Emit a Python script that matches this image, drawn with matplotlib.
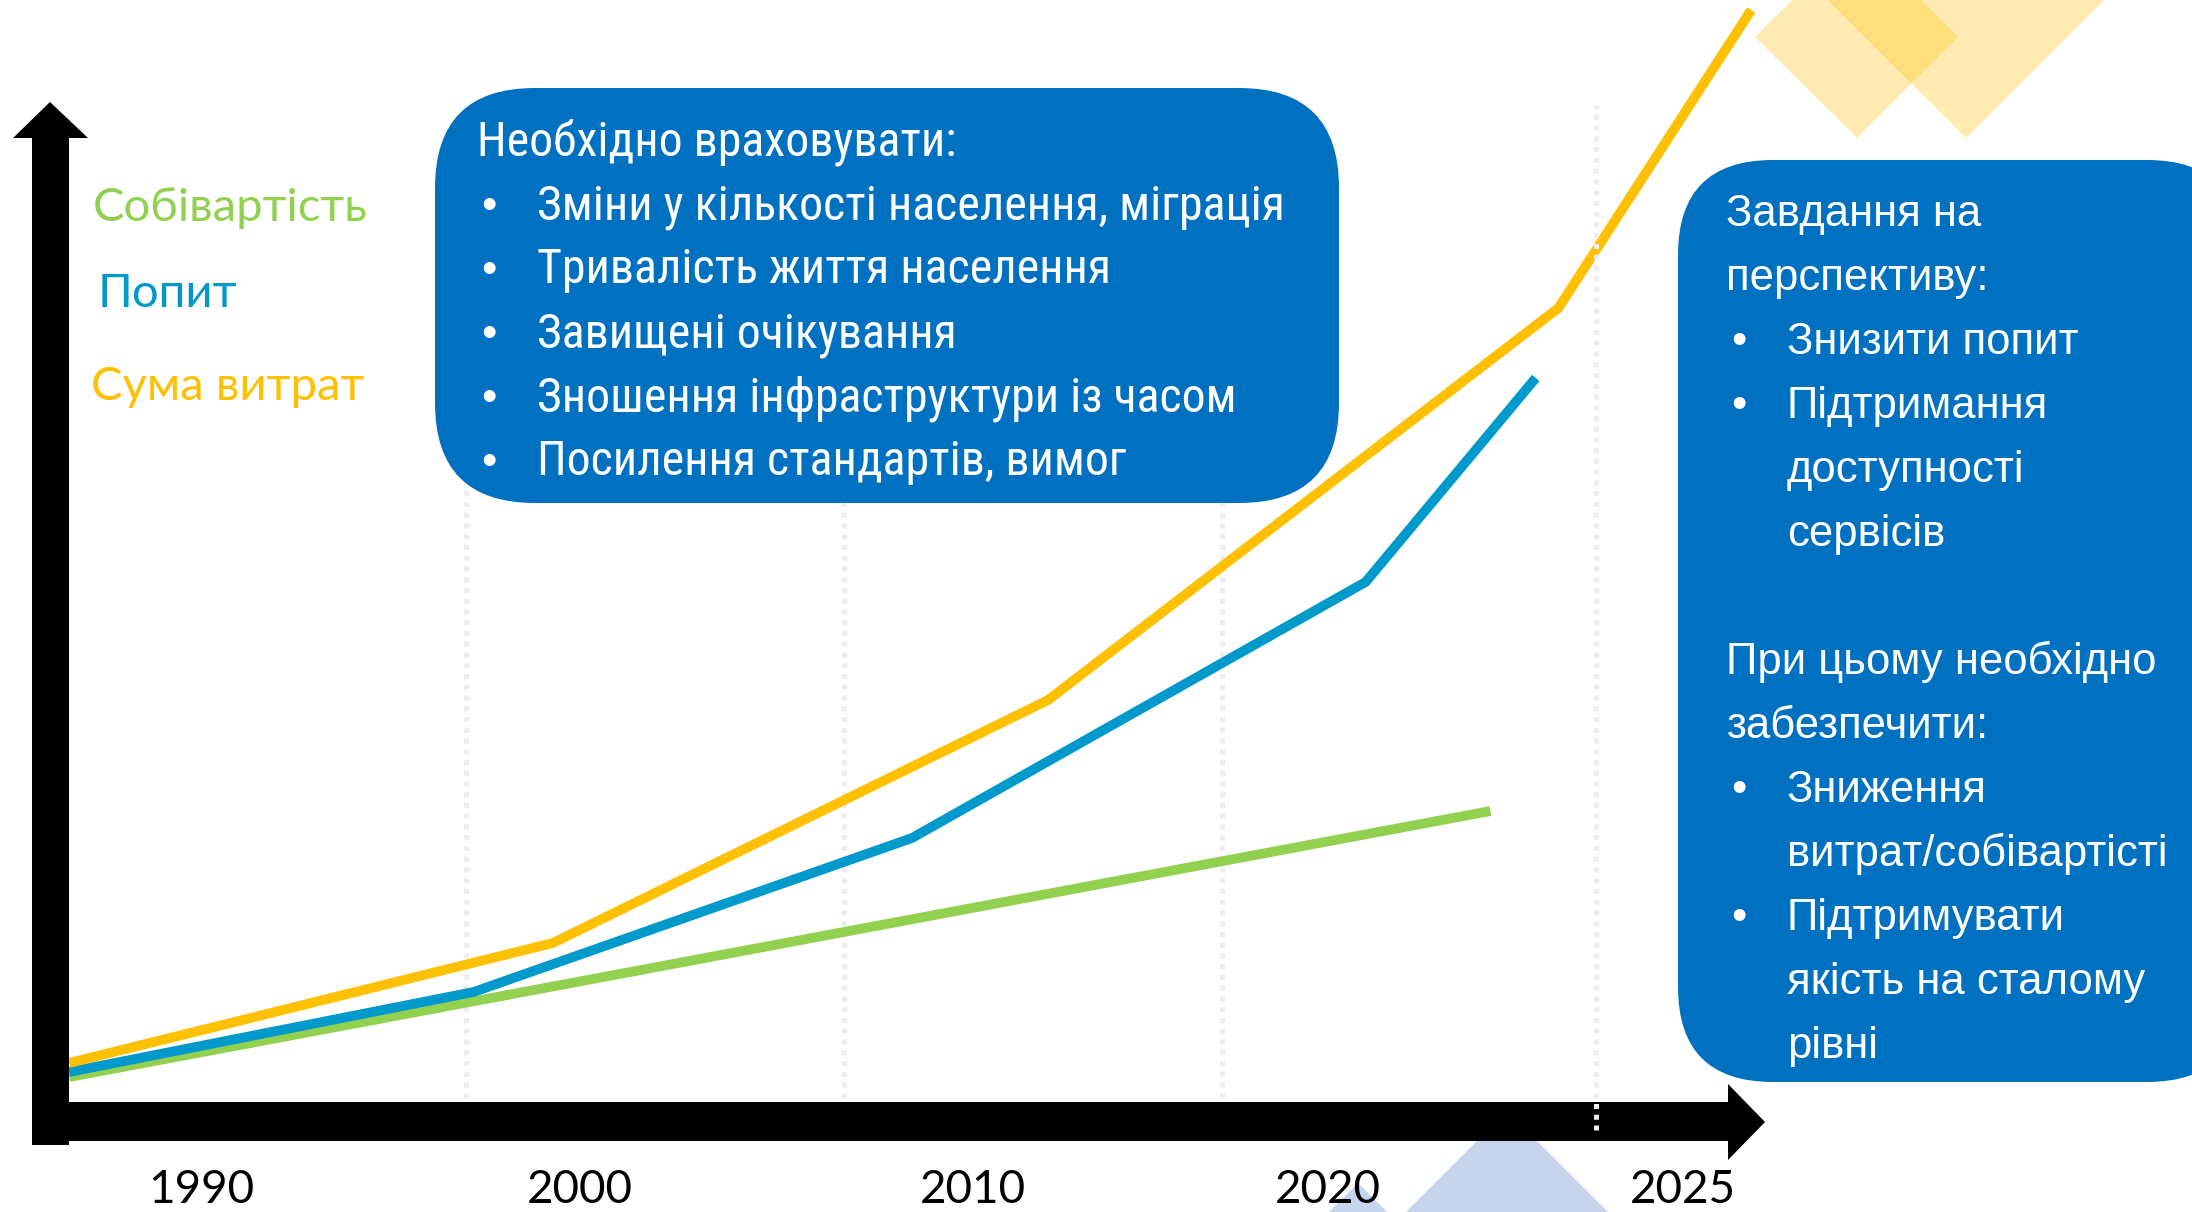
import matplotlib
matplotlib.use("Agg")
import matplotlib.pyplot as plt
from matplotlib import font_manager
from matplotlib.patches import Polygon, FancyBboxPatch
from matplotlib.transforms import Affine2D

# --- data ---
years_total = [1984.5, 1997.3, 2010.4, 2023.9, 2029.0]
total_cost = [3.9, 15.9, 40.2, 79.4, 109.2]          # Сума витрат
years_demand = [1984.5, 1995.2, 2006.8, 2018.8, 2023.3]
demand = [3.0, 11.0, 26.4, 52.0, 72.4]               # Попит
years_unit = [1984.5, 2022.1]
unit_cost = [2.5, 29.1]                              # Собівартість

grid_years = [1995, 2005, 2015, 2024.9]
tick_pos = [1988.0, 1998.0, 2008.4, 2017.8, 2027.2]
tick_labels = ["1990", "2000", "2010", "2020", "2025"]

series_names = ["Собівартість", "Попит", "Сума витрат"]
series_colors = ["#92D050", "#0099CC", "#FFC000"]

left_title = "Необхідно враховувати:"
left_items = ["Зміни у кількості населення, міграція",
              "Тривалість життя населення",
              "Завищені очікування",
              "Зношення інфраструктури із часом",
              "Посилення стандартів, вимог"]

# right box: (bullet?, text) per line; None = continuation of a bullet
right_lines = [(False, "Завдання на"), (False, "перспективу:"),
               (True, "Знизити попит"), (True, "Підтримання"),
               (None, "доступності"), (None, "сервісів"),
               (False, ""),
               (False, "При цьому необхідно"), (False, "забезпечити:"),
               (True, "Зниження"), (None, "витрат/собівартісті"),
               (True, "Підтримувати"), (None, "якість на сталому"),
               (None, "рівні")]

W, H = 2192, 1212
names = {f.name for f in font_manager.fontManager.ttflist}
narrow = next((n for n in ["Roboto Condensed", "PT Sans Narrow", "Liberation Sans"] if n in names), "DejaVu Sans")
BOX = "#0070C0"

fig = plt.figure(figsize=(W / 100, H / 100), dpi=100)
ax = fig.add_axes([0, 0, 1, 1])
# data scale: 37.8 px per year, 10 px per index unit, axis origin at pixel row 1102
ax.set_xlim(1995 - 466 / 37.8, 1995 + (W - 466) / 37.8)
ax.set_ylim(-(H - 1102) / 10, 1102 / 10)
ax.axis("off")
renderer = fig.canvas.get_renderer()

# pixel transform (origin top-left) for the slide decorations
px = Affine2D().scale(1 / W, -1 / H).translate(0, 1) + fig.transFigure


def fit_size(text, family, width_px, base=30):
    # font size that gives the sample text the width measured on the slide
    t = fig.text(0, 0, text, fontsize=base, family=family)
    w = t.get_window_extent(renderer).width
    t.remove()
    return base * width_px / w


fs_narrow = fit_size(left_items[0], narrow, 744)
fs_right = fit_size("витрат/собівартісті", "Liberation Sans", 379)
fs_legend = fit_size(series_names[0], "Lato", 275)
fs_tick = fit_size("1990", "Lato", 106)

# background shapes
for pts, col in [([(1755, 37), (1857, -64), (1958, 37), (1857, 138)], "#FFC000"),
                 ([(1786, -42), (1966, -222), (2146, -42), (1966, 138)], "#FFC000"),
                 ([(1507, 1111), (1657, 1261), (1507, 1411), (1357, 1261)], "#4472C4"),
                 ([(1358, 1183), (1458, 1283), (1358, 1383), (1258, 1283)], "#4472C4"),
                 ([(-20, -20), (12, -20), (-20, 12)], "#4472C4")]:
    ax.add_patch(Polygon(pts, closed=True, facecolor=col, alpha=0.3, lw=0,
                         transform=px, zorder=1))

# dotted grid (the last one sits on top of the lines and the axis)
ax.vlines(grid_years[:-1], -2.8, 99.7, colors="#EDEDED", lw=3.6,
          linestyles=(0, (1, 1.15)), zorder=2)
ax.vlines(grid_years[-1:], -2.8, 99.7, colors="#EDEDED", lw=3.6,
          linestyles=(0, (1, 1.15)), zorder=6)

# series
for xs, ys, c in [(years_unit, unit_cost, series_colors[0]),
                  (years_demand, demand, series_colors[1]),
                  (years_total, total_cost, series_colors[2])]:
    ax.plot(xs, ys, color=c, lw=7, solid_capstyle="butt",
            solid_joinstyle="miter", zorder=3)

# axis arrows
ax.add_patch(Polygon([(32, 1145), (32, 138), (13, 138), (50, 102), (88, 138),
                      (69, 138), (69, 1145)], closed=True, facecolor="black",
                     lw=0, transform=px, zorder=5))
ax.add_patch(Polygon([(32, 1102), (1728, 1102), (1728, 1084), (1765, 1122),
                      (1728, 1160), (1728, 1141), (32, 1141)], closed=True,
                     facecolor="black", lw=0, transform=px, zorder=5))

# tick labels
for p, lab in zip(tick_pos, tick_labels):
    ax.text(p, -8.8, lab, ha="center", va="center", fontsize=fs_tick,
            family="Lato", color="black", zorder=8)

# series labels
for (x, yb), name, c in zip([(93, 221), (98, 307), (91, 400)], series_names, series_colors):
    ax.text(x, yb, name, transform=px, ha="left", va="baseline", fontsize=fs_legend,
            family="Lato", color=c, zorder=8)

# left box
ax.add_patch(FancyBboxPatch((435, 88), 904, 415,
                            boxstyle="round,pad=0,rounding_size=100",
                            facecolor=BOX, lw=0, transform=px, zorder=7))
ax.text(477, 155, left_title, transform=px, va="baseline", fontsize=fs_narrow,
        family=narrow, color="white", zorder=8)
for i, item in enumerate(left_items):
    yb = 155 + 64 * (i + 1)
    ax.text(481, yb, "•", transform=px, va="baseline", fontsize=fs_right,
            family="Liberation Sans", color="white", zorder=8)
    ax.text(537, yb, item, transform=px, va="baseline", fontsize=fs_narrow,
            family=narrow, color="white", zorder=8)

# right box
ax.add_patch(FancyBboxPatch((1678, 160), 564, 922,
                            boxstyle="round,pad=0,rounding_size=95",
                            facecolor=BOX, lw=0, transform=px, zorder=7))
for i, (bul, txt) in enumerate(right_lines):
    yb = 226 + 64 * i
    if bul:
        ax.text(1731, yb, "•", transform=px, va="baseline", fontsize=fs_right,
                family="Liberation Sans", color="white", zorder=8)
    x = 1726 if bul is False else 1787
    ax.text(x, yb, txt, transform=px, va="baseline", fontsize=fs_right,
            family="Liberation Sans", color="white", zorder=8)

fig.savefig("out.png", dpi=100)
